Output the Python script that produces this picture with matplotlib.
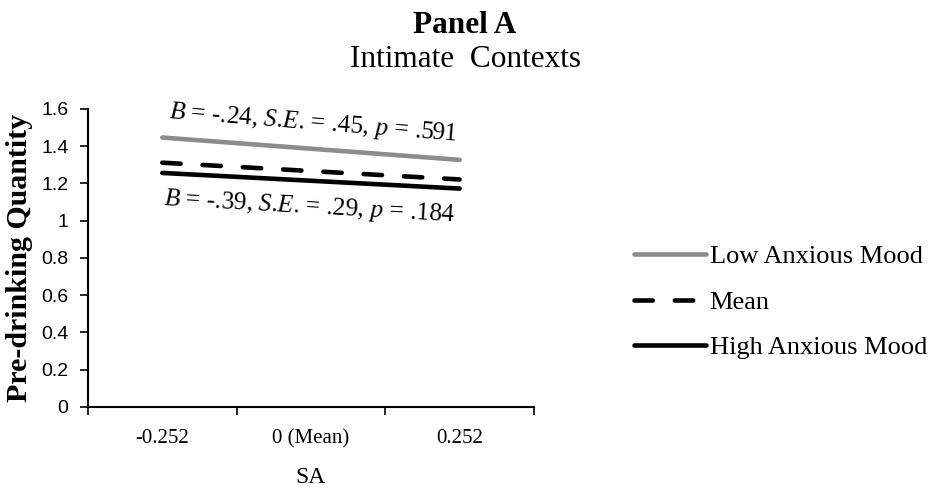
import matplotlib.pyplot as plt

plt.rcParams['mathtext.fontset'] = 'custom'
plt.rcParams['mathtext.it'] = 'Liberation Serif:italic'
plt.rcParams['mathtext.rm'] = 'Liberation Serif'

categories = ['-0.252', '0 (Mean)', '0.252']
low_anx = [1.446, 1.386, 1.326]
mean_anx = [1.311, 1.266, 1.221]
high_anx = [1.256, 1.214, 1.172]
yticks = [0, 0.2, 0.4, 0.6, 0.8, 1, 1.2, 1.4, 1.6]
ylabels = ['0', '0.2', '0.4', '0.6', '0.8', '1', '1.2', '1.4', '1.6']

serif = 'Liberation Serif'
sans = 'Liberation Sans'

fig = plt.figure(figsize=(9.34, 4.88), dpi=100)
ax = fig.add_axes([0.0942, 0.166, 0.4775, 0.611])

x = list(range(len(categories)))
l1, = ax.plot(x, low_anx, color='#8c8c8c', lw=3.3, solid_capstyle='round')
l2, = ax.plot(x, mean_anx, color='black', lw=3.3, dashes=(4, 4.8), dash_capstyle='round')
l3, = ax.plot(x, high_anx, color='black', lw=3.3, solid_capstyle='round')

ax.set_xlim(-0.5, 2.5)
ax.set_ylim(0, 1.6)
ax.set_yticks(yticks)
ax.set_yticklabels(ylabels, fontfamily=sans, fontsize=14)
# tick marks sit between the categories, labels at the centres
ax.set_xticks([-0.5, 0.5, 1.5, 2.5])
ax.set_xticklabels([])
ax.set_xticks(x, minor=True)
ax.set_xticklabels(categories, minor=True, fontfamily=serif, fontsize=15)
ax.tick_params(axis='x', which='minor', length=0, pad=16)
ax.tick_params(axis='x', which='major', length=6, width=1.2, direction='out')
ax.tick_params(axis='y', length=6, width=1.2, direction='out', pad=8)
for s in ['top', 'right']:
    ax.spines[s].set_visible(False)
for s in ['left', 'bottom']:
    ax.spines[s].set_linewidth(1.5)

ax.set_xlabel('SA', fontfamily=serif, fontsize=17, labelpad=13)
ax.set_ylabel('Pre-drinking Quantity', fontfamily=serif, fontweight='bold', fontsize=21.5)
ax.yaxis.set_label_coords(-0.123, 0.5)

ax.text(1.01, 1.49, r'$B$ = -.24, $S$.$E$. = .45, $p$ = .591',
        ha='center', va='baseline', rotation=-4.5, rotation_mode='anchor',
        fontfamily=serif, fontsize=18.2)
ax.text(0.99, 1.04, r'$B$ = -.39, $S$.$E$. = .29, $p$ = .184',
        ha='center', va='baseline', rotation=-3.2, rotation_mode='anchor',
        fontfamily=serif, fontsize=18.2)

fig.text(0.498, 0.932, 'Panel A', ha='center', va='baseline', fontfamily=serif,
         fontweight='bold', fontsize=22.5)
fig.text(0.498, 0.863, 'Intimate  Contexts', ha='center', va='baseline', fontfamily=serif,
         fontsize=22.5)

fig.legend([l1, l2, l3], ['Low Anxious Mood', 'Mean', 'High Anxious Mood'],
           loc='center left', bbox_to_anchor=(0.665, 0.381), frameon=False,
           borderpad=0, prop={'family': serif, 'size': 19}, handlelength=2.7,
           handletextpad=0.15, labelspacing=0.83)

fig.savefig('out.png', dpi=100)
